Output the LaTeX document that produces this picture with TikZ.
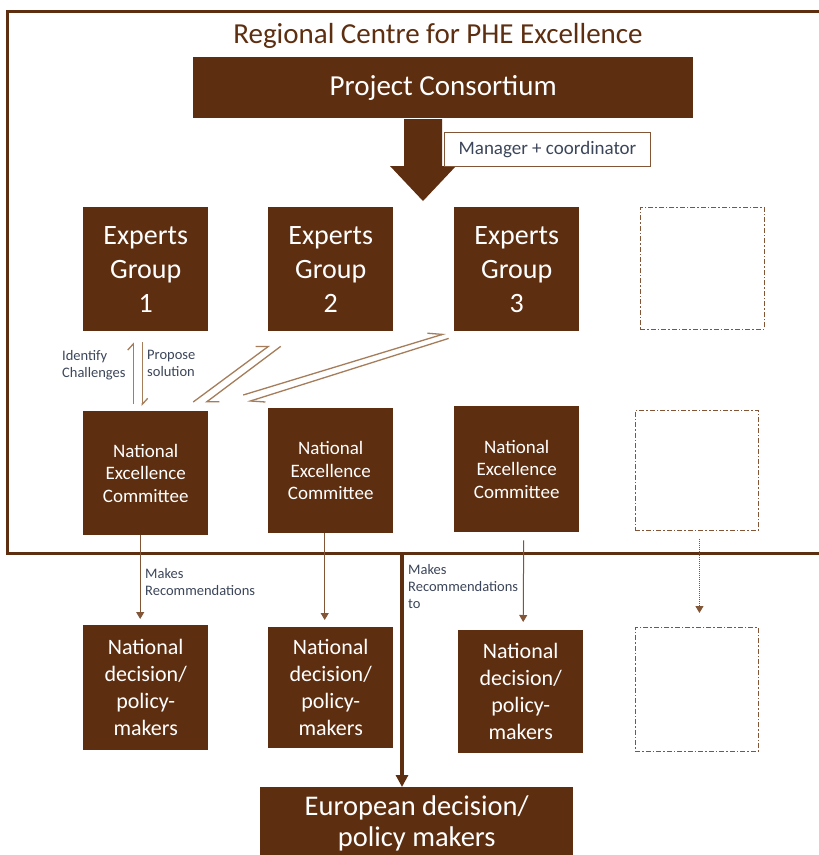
\documentclass[tikz,border=0pt]{standalone}
\usepackage{fontspec}
\setmainfont{Carlito}
\usetikzlibrary{arrows.meta}
\definecolor{brn}{RGB}{94,46,16}
\definecolor{lbrn}{RGB}{165,125,90}
\definecolor{mbrn}{RGB}{130,85,55}
\definecolor{lbl}{RGB}{60,70,90}
\begin{document}
\begin{tikzpicture}[x=1pt,y=-1pt,
  box/.style={fill=brn, text=white, inner sep=0pt, align=center, anchor=north west},
  egbox/.style={box, minimum width=125pt, minimum height=124pt, font=\fontsize{28}{34}\selectfont},
  necbox/.style={box, minimum width=125pt, minimum height=124pt, font=\fontsize{19}{22.5}\selectfont},
  ndpbox/.style={box, minimum width=125pt, minimum height=124pt, font=\fontsize{22}{27}\selectfont},
  ghost/.style={draw=mbrn, line width=0.9pt, dash pattern=on 5pt off 2pt on 1.5pt off 2pt, anchor=north west, minimum width=124pt, minimum height=122pt, inner sep=0pt},
  lab/.style={text=lbl, align=left, inner sep=0pt, anchor=north west, font=\fontsize{14.5}{17}\selectfont},
  harp/.style={lbrn, line width=1.3pt, -{Straight Barb[harpoon, length=6pt, width=11pt]}},
  harpd/.style={lbrn, line width=1.3pt, -{Straight Barb[harpoon, length=10pt, width=15pt]}},
  harpl/.style={lbrn, line width=1.3pt, -{Straight Barb[harpoon, length=14pt, width=11pt]}},
  downarr/.style={mbrn, line width=1pt, -{Triangle[length=7pt, width=8pt]}}
]
\useasboundingbox (0,0) rectangle (819,855);
\fill[white] (0,0) rectangle (819,855);
% frame
\draw[brn, line width=3pt] (822,11) -- (7,11) -- (7,553) -- (822,553);
\node[text=brn, font=\fontsize{29}{34}\selectfont, inner sep=0pt] (title) at (438,36) {Regional Centre for PHE Excellence};
\node[box, minimum width=500pt, minimum height=61pt, font=\fontsize{29}{34}\selectfont] (pc) at (193,57) {Project Consortium};
% big arrow
\coordinate (arrtop) at (423,119);
\fill[brn] (arrtop) ++(-19,0) -- ++(38,0) -- ++(0,47) -- ++(14,0) -- (423,201) -- (390,166) -- (404,166) -- cycle;
\node[draw=mbrn, line width=1pt, fill=white, text=lbl, minimum width=206pt, minimum height=34pt, inner sep=0pt, anchor=north west, font=\fontsize{19}{22}\selectfont] (mgr) at (444,132) {Manager + coordinator};
% experts groups
\node[egbox] (eg1) at (83,207) {Experts\\Group\\1};
\node[egbox] (eg2) at (268,207) {Experts\\Group\\2};
\node[egbox] (eg3) at (454,207) {Experts\\Group\\3};
\node[ghost] (eg4) at (640,207) {};
% NEC
\node[necbox] (nec1) at (83,411) {National\\Excellence\\Committee};
\node[necbox, minimum height=125pt] (nec2) at (268,408) {National\\Excellence\\Committee};
\node[necbox, minimum height=126pt] (nec3) at (454,406) {National\\Excellence\\Committee};
\node[ghost, minimum width=123pt, minimum height=120pt] (nec4) at (635,410) {};
% NDP
\node[ndpbox, minimum height=125pt] (ndp1) at (83,625) {National\\decision/\\policy-\\makers};
\node[ndpbox, minimum height=121pt] (ndp2) at (268,627) {National\\decision/\\policy-\\makers};
\node[ndpbox, minimum height=123pt] (ndp3) at (458,630) {National\\decision/\\policy-\\makers};
\node[ghost, minimum width=123pt, minimum height=124pt] (ndp4) at (635,627) {};
% European
\node[box, minimum width=313pt, minimum height=72pt, font=\fontsize{28.5}{31}\selectfont] (eu) at (260,787) {European decision/\\policy makers};
% harpoon arrows
\draw[harp] ([shift={(-12.5,-7)}]nec1.north) -- ([shift={(-12.5,11)}]eg1.south);
\draw[harp] ([shift={(-3.5,11)}]eg1.south) -- ([shift={(-3.5,-5)}]nec1.north);
\draw[harpd] ([shift={(47.5,-9)}]nec1.north) -- ([shift={(-61,14)}]eg2.south);
\draw[harpd] ([shift={(-50,15)}]eg2.south) -- ([shift={(59.5,-8)}]nec1.north);
\draw[harpl] ([shift={(97.5,-16)}]nec1.north) -- ([shift={(-71,2)}]eg3.south);
\draw[harpl] ([shift={(-68,7)}]eg3.south) -- ([shift={(101.5,-9)}]nec1.north);
\node[lab] (idc) at (62,350) {Identify\\Challenges};
\node[lab] (prs) at (147,350) {Propose\\solution};
% NEC -> NDP
\draw[downarr] ([shift={(-5.5,0)}]nec1.south) -- ([shift={(-5.5,-6)}]ndp1.north);
\draw[downarr] ([shift={(-6,0)}]nec2.south) -- ([shift={(-6,-7)}]ndp2.north);
\draw[downarr] ([shift={(7,8)}]nec3.south) -- ([shift={(2.5,-8)}]ndp3.north);
\draw[mbrn, line width=1pt, densely dotted, -{Triangle[length=7pt, width=8pt]}] ([shift={(2.5,8)}]nec4.south) -- ([shift={(2.5,-14)}]ndp4.north);
\node[lab] (mr1) at (145,568) {Makes\\Recommendations};
\node[lab] (mr2) at (408,564) {Makes\\Recommendations\\to};
% thick line to European
\coordinate (fb) at (402,553);
\draw[brn, line width=3.5pt, -{Triangle[length=12pt, width=12pt]}] (fb) -- (fb |- eu.north);
\end{tikzpicture}
\end{document}
